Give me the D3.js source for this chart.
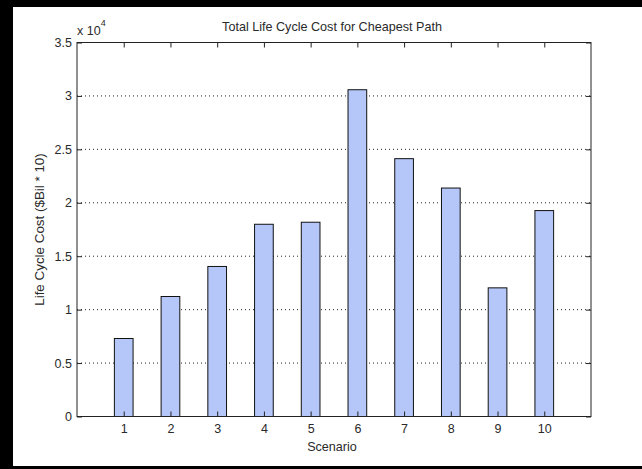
<!DOCTYPE html>
<html>
<head>
<meta charset="utf-8">
<script src="https://cdn.jsdelivr.net/npm/d3@7"></script>
<style>
  body { margin: 0; background: #fff; }
  svg { display: block; }
</style>
</head>
<body>
<div id="chart"></div>
<script>
"use strict";

// values
var scenarios = [1, 2, 3, 4, 5, 6, 7, 8, 9, 10];
var costs = [7300, 11230, 14040, 17990, 18180, 30580, 24130, 21380, 12040, 19270];
var yTicks = [0, 5000, 10000, 15000, 20000, 25000, 30000, 35000];

var font = "'Liberation Sans', Arial, sans-serif";
var width = 642, height = 469;
var margin = {left: 77, right: 51, top: 42.5, bottom: 52.5};

var svg = d3.select("#chart").append("svg")
    .attr("width", width)
    .attr("height", height)
    .attr("font-family", font);

svg.append("rect").attr("width", width).attr("height", height).attr("fill", "#fff");

var x = d3.scaleLinear().domain([0, 11]).range([margin.left, width - margin.right]);
var y = d3.scaleLinear().domain([0, 35000]).range([height - margin.bottom, margin.top]);

// dotted horizontal grid
svg.append("g").selectAll("line")
    .data(yTicks.slice(1, -1))
    .enter().append("line")
    .attr("x1", x(0)).attr("x2", x(11))
    .attr("y1", function(d) { return y(d); })
    .attr("y2", function(d) { return y(d); })
    .attr("stroke", "#222")
    .attr("stroke-width", 1)
    .attr("stroke-dasharray", "1,3");

// bars, 0.4 of the slot wide
svg.append("g").selectAll("rect")
    .data(scenarios)
    .enter().append("rect")
    .attr("x", function(d) { return x(d - 0.2); })
    .attr("width", function(d) { return x(d + 0.2) - x(d - 0.2); })
    .attr("y", function(d, i) { return y(costs[i]); })
    .attr("height", function(d, i) { return y(0) - y(costs[i]); })
    .attr("fill", "#b4c7f8")
    .attr("stroke", "#111")
    .attr("stroke-width", 1);

// axes, ticks pointing inward
var axLeft = svg.append("g")
    .attr("transform", "translate(" + x(0) + ",0)")
    .call(d3.axisLeft(y).tickValues(yTicks).tickSize(-5).tickPadding(5)
        .tickFormat(function(d) { return d / 10000; }));
var axRight = svg.append("g")
    .attr("transform", "translate(" + x(11) + ",0)")
    .call(d3.axisRight(y).tickValues(yTicks).tickSize(-5).tickFormat(""));
var axBottom = svg.append("g")
    .attr("transform", "translate(0," + y(0) + ")")
    .call(d3.axisBottom(x).tickValues(scenarios).tickSize(-5).tickPadding(8));
var axTop = svg.append("g")
    .attr("transform", "translate(0," + y(35000) + ")")
    .call(d3.axisTop(x).tickValues(scenarios).tickSize(-5).tickFormat(""));

[axLeft, axRight, axBottom, axTop].forEach(function(a) {
    a.attr("font-family", font).attr("font-size", 12.5);
    a.select(".domain").remove();
    a.selectAll(".tick line").attr("stroke", "#222");
    a.selectAll(".tick text").attr("fill", "#2a2a2a");
});

// box
svg.append("rect")
    .attr("x", x(0)).attr("y", y(35000))
    .attr("width", x(11) - x(0)).attr("height", y(0) - y(35000))
    .attr("fill", "none")
    .attr("stroke", "#222")
    .attr("stroke-width", 1);

// exponent label
var expo = svg.append("text")
    .attr("x", x(0))
    .attr("y", 35)
    .attr("font-size", 12.5)
    .attr("fill", "#2a2a2a")
    .text("x 10");
expo.append("tspan")
    .attr("font-size", 9)
    .attr("dy", -9)
    .text("4");

// title and axis labels
svg.append("text")
    .attr("x", (x(0) + x(11)) / 2 - 2)
    .attr("y", 31)
    .attr("text-anchor", "middle")
    .attr("font-size", 12.6)
    .attr("fill", "#2a2a2a")
    .text("Total Life Cycle Cost for Cheapest Path");

svg.append("text")
    .attr("x", (x(0) + x(11)) / 2 - 2)
    .attr("y", 451)
    .attr("text-anchor", "middle")
    .attr("font-size", 12.6)
    .attr("fill", "#2a2a2a")
    .text("Scenario");

svg.append("text")
    .attr("transform", "translate(43.5," + (y(0) + y(35000)) / 2 + ") rotate(-90)")
    .attr("text-anchor", "middle")
    .attr("font-size", 13.4)
    .attr("fill", "#2a2a2a")
    .text("Life Cycle Cost ($Bil * 10)");

// black frame of the screenshot
svg.append("rect").attr("x", 0).attr("y", 0).attr("width", width).attr("height", 7).attr("fill", "#000");
svg.append("rect").attr("x", 0).attr("y", 0).attr("width", 13).attr("height", height).attr("fill", "#000");
svg.append("rect").attr("x", 0).attr("y", 466).attr("width", width).attr("height", 3).attr("fill", "#000");
</script>
</body>
</html>
